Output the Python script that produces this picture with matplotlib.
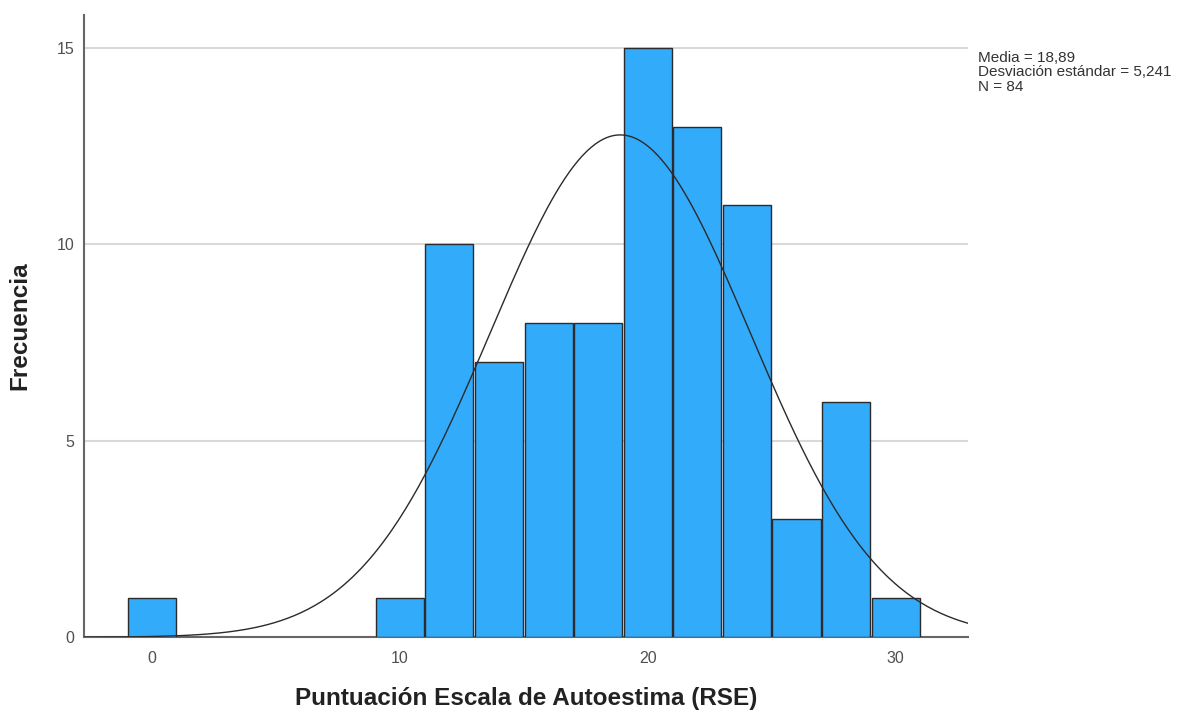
import matplotlib.pyplot as plt
import numpy as np

plt.rcParams['font.family'] = ['Liberation Sans', 'DejaVu Sans']

# histogram of RSE scores (bin width 2, centred on even values)
bin_centers = [0, 10, 12, 14, 16, 18, 20, 22, 24, 26, 28, 30]
frequencies = [1, 1, 10, 7, 8, 8, 15, 13, 11, 3, 6, 1]
bin_width = 2

media = 18.89
desviacion = 5.241
n_total = 84

x_ticks = [0, 10, 20, 30]
y_ticks = [0, 5, 10, 15]

fig = plt.figure(figsize=(11.99, 7.16), dpi=100)
ax = fig.add_axes([0.070, 0.110, 0.737, 0.869])

ax.bar(bin_centers, frequencies, width=bin_width * 0.97, color='#33abfb',
       edgecolor='#2b2b2b', linewidth=1.0, zorder=3)

# fitted normal curve scaled to counts
xs = np.linspace(-2.74, 32.9, 400)
pdf = np.exp(-0.5 * ((xs - media) / desviacion) ** 2) / (desviacion * np.sqrt(2 * np.pi))
ax.plot(xs, n_total * bin_width * pdf, color='#2b2b2b', linewidth=1.0, zorder=4)

ax.set_xlim(-2.74, 32.9)
ax.set_ylim(0, 15.84)
ax.set_xticks(x_ticks)
ax.set_yticks(y_ticks)
ax.yaxis.grid(True, color='#d9d9d9', linewidth=1.5, zorder=0)
ax.set_axisbelow(True)
ax.tick_params(length=0, labelsize=11.5, colors='#505050')
ax.tick_params(axis='x', pad=10)
ax.tick_params(axis='y', pad=7)

for side in ['top', 'right']:
    ax.spines[side].set_visible(False)
for side in ['left', 'bottom']:
    ax.spines[side].set_color('#666666')
    ax.spines[side].set_linewidth(1.5)

ax.set_xlabel('Puntuación Escala de Autoestima (RSE)', fontsize=17.5,
              fontweight='bold', color='#222222', labelpad=15)
ax.set_ylabel('Frecuencia', fontsize=17.5, fontweight='bold',
              color='#222222', labelpad=18)

fig.text(0.816, 0.929,
         'Media = 18,89\nDesviación estándar = 5,241\nN = 84',
         fontsize=11, color='#333333', va='top', ha='left', linespacing=1.05)

fig.savefig('out.png', dpi=100)
